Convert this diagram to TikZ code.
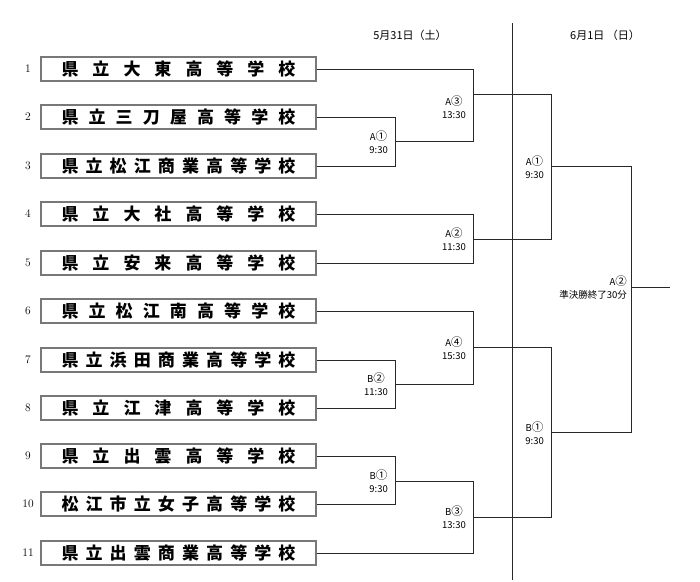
\documentclass[tikz,border=0pt]{standalone}
\usepackage{fontspec}
\newfontfamily\jp{Noto Sans CJK JP}
\definecolor{boxgray}{RGB}{120,120,120}
\definecolor{wirec}{RGB}{40,40,40}
\newcommand{\spread}[1]{\makebox[234pt]{#1}}
\newcommand{\cn}[1]{{\fontsize{11.5}{13}\selectfont #1}}
\begin{document}
\begin{tikzpicture}[x=1pt,y=-1pt,
  school/.style={draw=boxgray, line width=1.6pt, fill=white, minimum width=275pt, minimum height=24pt, inner sep=0pt, font=\jp\bfseries\fontsize{17}{17}\selectfont},
  num/.style={font=\fontsize{11.5}{12}\selectfont, inner sep=0pt},
  wire/.style={line width=0.8pt, draw=wirec},
  lbl/.style={anchor=east, align=center, font=\jp\fontsize{9.5}{13}\selectfont, inner sep=0pt},
  hdr/.style={font=\jp\fontsize{11}{12}\selectfont, inner sep=0pt}]
\useasboundingbox (0,0) rectangle (700,581);
% headers
\node[hdr] (h1) at (410,35) {5月31日（土）};
\node[hdr] (h2) at (605,35) {6月1日 （日）};
\coordinate (septop) at (512,23);
\coordinate (sepbot) at (512,580);
\draw[wire] (septop) -- (sepbot);
% schools
\foreach \i/\y/\t in {
 1/69/{県\hfill 立\hfill 大\hfill 東\hfill 高\hfill 等\hfill 学\hfill 校},
 2/117/{県\hfill 立\hfill 三\hfill 刀\hfill 屋\hfill 高\hfill 等\hfill 学\hfill 校},
 3/166/{県\hfill 立\hfill 松\hfill 江\hfill 商\hfill 業\hfill 高\hfill 等\hfill 学\hfill 校},
 4/214/{県\hfill 立\hfill 大\hfill 社\hfill 高\hfill 等\hfill 学\hfill 校},
 5/263/{県\hfill 立\hfill 安\hfill 来\hfill 高\hfill 等\hfill 学\hfill 校},
 6/311/{県\hfill 立\hfill 松\hfill 江\hfill 南\hfill 高\hfill 等\hfill 学\hfill 校},
 7/360/{県\hfill 立\hfill 浜\hfill 田\hfill 商\hfill 業\hfill 高\hfill 等\hfill 学\hfill 校},
 8/408/{県\hfill 立\hfill 江\hfill 津\hfill 高\hfill 等\hfill 学\hfill 校},
 9/456/{県\hfill 立\hfill 出\hfill 雲\hfill 高\hfill 等\hfill 学\hfill 校},
 10/504/{松\hfill 江\hfill 市\hfill 立\hfill 女\hfill 子\hfill 高\hfill 等\hfill 学\hfill 校},
 11/553/{県\hfill 立\hfill 出\hfill 雲\hfill 商\hfill 業\hfill 高\hfill 等\hfill 学\hfill 校}} {
  \node[school] (b\i) at (178.5,\y) {\spread{\t}};
  \node[num] (n\i) at (28,\y) {\i};
}
% match points
\coordinate (dA1) at (395,141);
\coordinate (dA3) at (473,94);
\coordinate (dA2) at (473,239);
\coordinate (dB2) at (395,384);
\coordinate (dA4) at (473,347);
\coordinate (dB1) at (395,481);
\coordinate (dB3) at (473,517);
\coordinate (eA1) at (551,166);
\coordinate (eB1) at (551,432);
\coordinate (fA2) at (631,287);
\coordinate (fend) at (670,287);
% wires
\draw[wire] (b2.east) -| (dA1);
\draw[wire] (b3.east) -| (dA1);
\draw[wire] (b1.east) -| (dA3);
\draw[wire] (dA1) -| (dA3);
\draw[wire] (b4.east) -| (dA2);
\draw[wire] (b5.east) -| (dA2);
\draw[wire] (b7.east) -| (dB2);
\draw[wire] (b8.east) -| (dB2);
\draw[wire] (b6.east) -| (dA4);
\draw[wire] (dB2) -| (dA4);
\draw[wire] (b9.east) -| (dB1);
\draw[wire] (b10.east) -| (dB1);
\draw[wire] (dB1) -| (dB3);
\draw[wire] (b11.east) -| (dB3);
\draw[wire] (dA3) -| (eA1);
\draw[wire] (dA2) -| (eA1);
\draw[wire] (dA4) -| (eB1);
\draw[wire] (dB3) -| (eB1);
\draw[wire] (eA1) -| (fA2);
\draw[wire] (eB1) -| (fA2);
\draw[wire] (fA2) -- (fend);
% labels
\node[lbl] (lA1) at (388,142) {A\cn{①}\\9:30};
\node[lbl] (lA3) at (466,107) {A\cn{③}\\13:30};
\node[lbl] (lA2) at (466,239) {A\cn{②}\\11:30};
\node[lbl] (lB2) at (388,384.5) {B\cn{②}\\11:30};
\node[lbl] (lA4) at (466,348.5) {A\cn{④}\\15:30};
\node[lbl] (lB1) at (388,481) {B\cn{①}\\9:30};
\node[lbl] (lB3) at (466,517.5) {B\cn{③}\\13:30};
\node[lbl] (mA1) at (544,167.5) {A\cn{①}\\9:30};
\node[lbl] (mB1) at (544,433) {B\cn{①}\\9:30};
\node[lbl, align=right] (fl) at (627,288) {A\cn{②}\\準決勝終了30分};
\end{tikzpicture}
\end{document}
